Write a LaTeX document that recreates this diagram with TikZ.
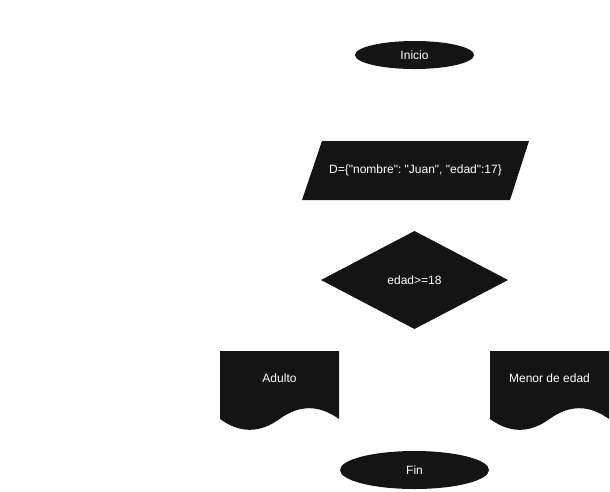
\documentclass[tikz,border=0pt]{standalone}
\usepackage{fontspec}
\setmainfont{Liberation Sans}[Ligatures=TeXOff]
\usepackage{tikz}
\usetikzlibrary{shapes.geometric}
\frenchspacing

\definecolor{shapefill}{RGB}{20,20,20}

\tikzset{
  blk/.style={fill=shapefill, draw=none},
  lbl/.style={text=white, font=\fontsize{12}{14}\selectfont, inner sep=0pt},
  term/.style={blk, lbl, ellipse}
}

\begin{document}
\begin{tikzpicture}[x=1pt,y=-1pt]

\useasboundingbox (0,0) rectangle (610,491);

% inicio
\node [term, minimum width=119pt, minimum height=28pt] (inicio) at (414.5,55) {Inicio};

% datos
\draw [blk] (322,141) -- (529,141) -- (510,200) -- (302,200) -- cycle;
\node [lbl] (datos) at (415.5,170) {D=\{"nombre": "Juan", "edad":17\}};

% decision
\draw [blk] (321,280) -- (414.5,231) -- (508,280) -- (414.5,329) -- cycle;
\node [lbl] (cond) at (414.5,280) {edad>=18};

% salidas
\begin{scope}[shift={(220,351)}]
\draw [blk] (0,0) -- (119,0) -- (119,68) .. controls (99.17,53.6) and (79.33,53.6) .. (59.5,68) .. controls (39.67,82.4) and (19.83,82.4) .. (0,68) -- cycle;
\end{scope}
\node [lbl] (adulto) at (279.5,378) {Adulto};

\begin{scope}[shift={(490,351)}]
\draw [blk] (0,0) -- (119,0) -- (119,68) .. controls (99.17,53.6) and (79.33,53.6) .. (59.5,68) .. controls (39.67,82.4) and (19.83,82.4) .. (0,68) -- cycle;
\end{scope}
\node [lbl] (menor) at (549.5,378) {Menor de edad};

% fin
\node [term, minimum width=149pt, minimum height=38pt] (fin) at (414.5,470) {Fin};

\end{tikzpicture}
\end{document}
